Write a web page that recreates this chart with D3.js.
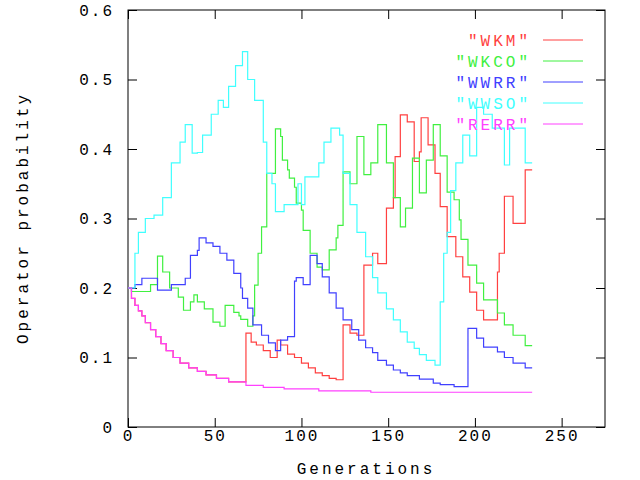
<!DOCTYPE html><html><head><meta charset="utf-8">
<script src="https://cdn.jsdelivr.net/npm/d3@7"></script>
<style>body{margin:0;background:#fff}</style></head><body>
<svg id="c" width="640" height="480"></svg>
<script>
const names=['"WKM"','"WKCO"','"WWRR"','"WWSO"','"RERR"'];
const colors=["#ff4040","#40f040","#4040ff","#40ffff","#ff40ff"];
const xTicks=[0,50,100,150,200,250];
const yTicks=[0,0.1,0.2,0.3,0.4,0.5,0.6];
const rerrGen=[0,2,4,6,8,10,13,16,19,22,26,30,35,40,45,51,58,68,78,90,110,140,233];
const rerrVal=[0.2,0.185,0.175,0.167,0.16,0.15,0.14,0.13,0.12,0.11,0.1,0.092,0.085,0.08,0.075,0.07,0.065,0.06,0.057,0.055,0.052,0.05,0.05];
const wkmGen=[0,2,4,6,8,10,13,16,19,22,26,30,35,40,45,51,58,68,71,74,78,82,86,88,92,96,100,104,108,112,116,120,124,128,132,136,141,144,149,153,154,157,161,165,168,169,173,177,180,184,189,193,197,201,205,213,214,217,222,229,233];
const wkmVal=[0.2,0.185,0.175,0.167,0.16,0.15,0.14,0.13,0.12,0.11,0.1,0.092,0.085,0.08,0.075,0.07,0.065,0.135,0.122,0.118,0.11,0.1,0.125,0.118,0.105,0.1,0.092,0.085,0.078,0.074,0.07,0.068,0.147,0.135,0.132,0.233,0.25,0.235,0.315,0.33,0.389,0.449,0.439,0.382,0.396,0.445,0.406,0.365,0.317,0.274,0.245,0.216,0.194,0.168,0.154,0.223,0.25,0.332,0.293,0.37,0.37];
const wkcoGen=[0,2,13,17,20,24,29,32,36,38,40,44,49,53,56,61,64,65,69,72,73,75,77,80,82,85,88,89,92,93,96,97,100,101,105,109,112,116,120,121,124,128,132,136,140,144,149,153,157,160,164,168,172,176,180,184,188,191,192,196,201,205,213,217,222,229,233];
const wkcoVal=[0.2,0.195,0.205,0.246,0.223,0.2,0.187,0.168,0.18,0.19,0.18,0.17,0.151,0.145,0.175,0.165,0.16,0.155,0.145,0.16,0.204,0.25,0.288,0.365,0.365,0.429,0.418,0.384,0.37,0.358,0.345,0.322,0.312,0.283,0.25,0.23,0.226,0.255,0.272,0.29,0.367,0.35,0.418,0.363,0.38,0.435,0.38,0.33,0.288,0.315,0.387,0.337,0.384,0.435,0.39,0.338,0.327,0.298,0.27,0.233,0.207,0.183,0.164,0.147,0.132,0.117,0.117];
const wwrrGen=[0,4,8,17,25,33,36,40,41,45,49,53,57,61,65,66,69,72,77,81,85,88,92,96,97,101,105,109,112,116,120,124,129,133,137,141,144,149,153,157,161,168,176,180,188,196,201,205,213,217,222,229,233];
const wwrrVal=[0.2,0.205,0.214,0.197,0.205,0.214,0.247,0.254,0.272,0.265,0.26,0.25,0.24,0.221,0.2,0.185,0.171,0.147,0.132,0.121,0.11,0.125,0.13,0.21,0.215,0.205,0.247,0.235,0.216,0.193,0.171,0.154,0.14,0.125,0.114,0.107,0.096,0.089,0.082,0.078,0.074,0.069,0.063,0.061,0.058,0.142,0.128,0.115,0.108,0.1,0.092,0.085,0.085];
const wwsoGen=[0,4,6,10,15,20,25,30,33,37,40,43,48,52,55,58,62,66,69,73,78,80,83,85,88,90,95,98,100,102,108,110,113,117,122,124,128,132,137,141,144,149,153,157,161,165,168,172,177,180,182,184,186,189,193,197,201,205,210,217,220,229,233];
const wwsoVal=[0.2,0.25,0.28,0.3,0.305,0.33,0.38,0.41,0.435,0.394,0.395,0.42,0.45,0.47,0.46,0.49,0.52,0.54,0.5,0.47,0.41,0.365,0.35,0.31,0.31,0.32,0.32,0.35,0.32,0.36,0.36,0.38,0.41,0.43,0.42,0.365,0.32,0.28,0.245,0.215,0.193,0.17,0.154,0.137,0.122,0.113,0.104,0.096,0.089,0.18,0.25,0.28,0.34,0.38,0.42,0.39,0.46,0.45,0.43,0.377,0.43,0.38,0.38];
const series=[[wkmGen,wkmVal],[wkcoGen,wkcoVal],[wwrrGen,wwrrVal],[wwsoGen,wwsoVal],[rerrGen,rerrVal]];

const svg=d3.select("#c"),L=128,R=605,T=10,B=427;
const x=d3.scaleLinear().domain([0,275]).range([L,R]);
const y=d3.scaleLinear().domain([0,0.6]).range([B,T]);
const font="Liberation Mono, DejaVu Sans Mono, monospace";
const g=svg.append("g");
g.append("rect").attr("x",L).attr("y",T).attr("width",R-L).attr("height",B-T).attr("fill","none").attr("stroke","#000");
g.append("g").attr("transform",`translate(0,${B})`).call(d3.axisBottom(x).tickValues(xTicks).tickSize(-9).tickPadding(3).tickFormat(d3.format("d")));
g.append("g").attr("transform",`translate(0,${T})`).call(d3.axisTop(x).tickValues(xTicks).tickSize(-9).tickFormat(""));
g.append("g").attr("transform",`translate(${L},0)`).call(d3.axisLeft(y).tickValues(yTicks).tickSize(-9).tickPadding(14).tickFormat(d=>d===0?"0":d3.format(".1f")(d)));
g.append("g").attr("transform",`translate(${R},0)`).call(d3.axisRight(y).tickValues(yTicks).tickSize(-9).tickFormat(""));
g.selectAll(".domain").remove();
g.selectAll(".tick line").attr("stroke","#000");
g.selectAll(".tick text").attr("font-family",font).attr("font-size",16).attr("letter-spacing",2).attr("fill","#000");
const line=d3.line().x(d=>x(d[0])).y(d=>y(d[1])).curve(d3.curveStepAfter);
series.forEach((s,i)=>{
  const pts=s[0].map((gv,j)=>[gv,s[1][j]]);
  svg.append("path").attr("d",line(pts)).attr("fill","none").attr("stroke",colors[i]).attr("stroke-width",1.2);
});
names.forEach((n,i)=>{
  const yy=40+i*21;
  svg.append("text").attr("x",531).attr("y",yy+6).attr("text-anchor","end").attr("font-family",font).attr("font-size",16).attr("letter-spacing",3).attr("fill",colors[i]).text(n);
  svg.append("line").attr("x1",543).attr("x2",583).attr("y1",yy).attr("y2",yy).attr("stroke",colors[i]);
});
svg.append("text").attr("x",366).attr("y",474).attr("text-anchor","middle").attr("font-family",font).attr("font-size",16).attr("letter-spacing",3).text("Generations");
svg.append("text").attr("transform","translate(28,218) rotate(-90)").attr("text-anchor","middle").attr("font-family",font).attr("font-size",16).attr("letter-spacing",3).text("Operator probability");
</script></body></html>
